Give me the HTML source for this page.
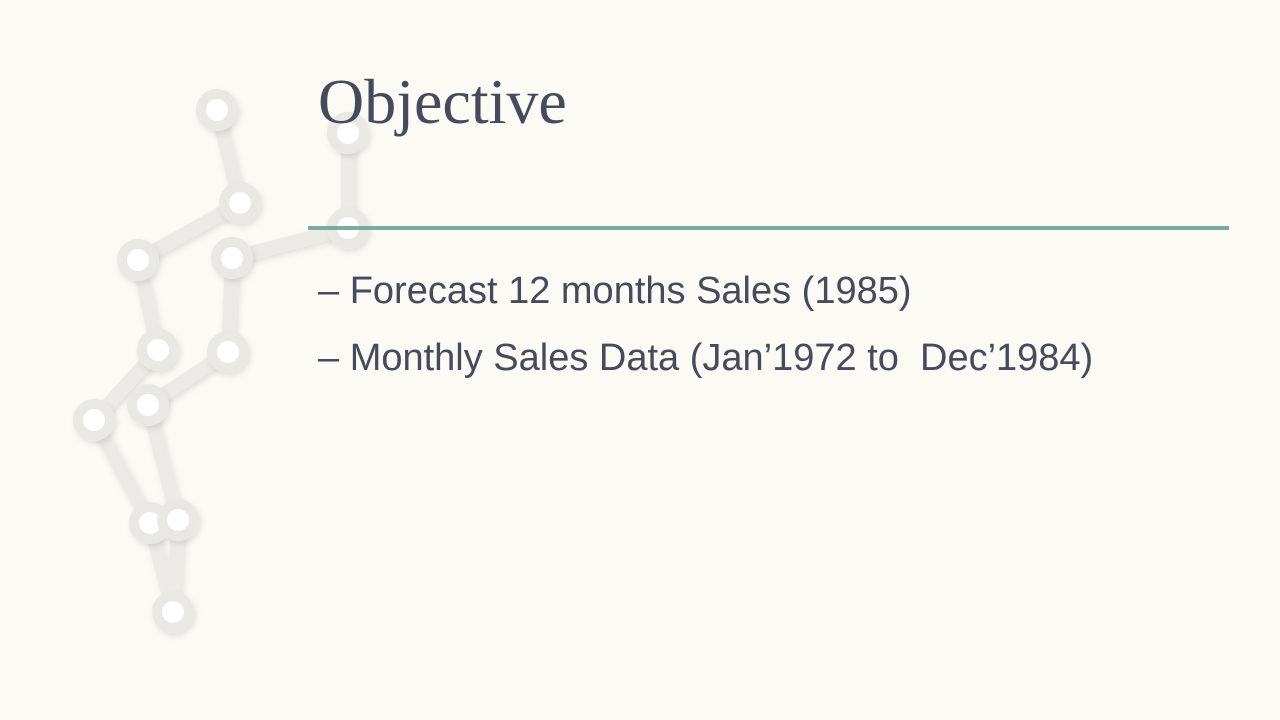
<!DOCTYPE html>
<html><head><meta charset="utf-8"><style>
html,body{margin:0;padding:0}
body{width:1280px;height:720px;background:#fbfaf5;position:relative;overflow:hidden;font-family:"Liberation Sans",sans-serif}
#title{position:absolute;left:318px;top:64px;font-family:"Liberation Serif",serif;font-size:64px;line-height:75px;color:#464a5a;margin:0;font-weight:normal}
#rule{position:absolute;left:308px;top:226px;width:921px;height:4px;background:#7aab9f}
.bullet{position:absolute;left:318px;font-size:38px;line-height:44px;color:#464a5a;letter-spacing:0;white-space:pre}
</style></head><body>
<svg width="1280" height="720" style="position:absolute;left:0;top:0">
<defs><filter id="sh"><feDropShadow dx="2" dy="3" stdDeviation="3" flood-color="#000" flood-opacity="0.10"/></filter></defs>
<g filter="url(#sh)" fill="none" stroke="#ebeae6" stroke-width="14" stroke-linecap="round" stroke-linejoin="round">
<polyline points="217,110 240,203 138,260 158,350 94,420 150,523 173,612"/>
<polyline points="348,133 348,228 232,258 228,352 148,405 178,520 173,612"/>
</g>
<g filter="url(#sh)" fill="#fff" stroke="#e9e8e4" stroke-width="10">
<circle cx="217" cy="110" r="16"/><circle cx="240" cy="203" r="16"/><circle cx="138" cy="260" r="16"/>
<circle cx="158" cy="350" r="16"/><circle cx="94" cy="420" r="16"/><circle cx="150" cy="523" r="16"/>
<circle cx="173" cy="612" r="16"/><circle cx="348" cy="133" r="16"/><circle cx="348" cy="228" r="16"/>
<circle cx="232" cy="258" r="16"/><circle cx="228" cy="352" r="16"/><circle cx="148" cy="405" r="16"/>
<circle cx="178" cy="520" r="16"/>
</g>
</svg>
<h1 id="title">Objective</h1>
<div id="rule"></div>
<div class="bullet" style="top:269px">– Forecast 12 months Sales (1985)</div>
<div class="bullet" style="top:336px">– Monthly Sales Data (Jan’1972 to  Dec’1984)</div>
</body></html>
